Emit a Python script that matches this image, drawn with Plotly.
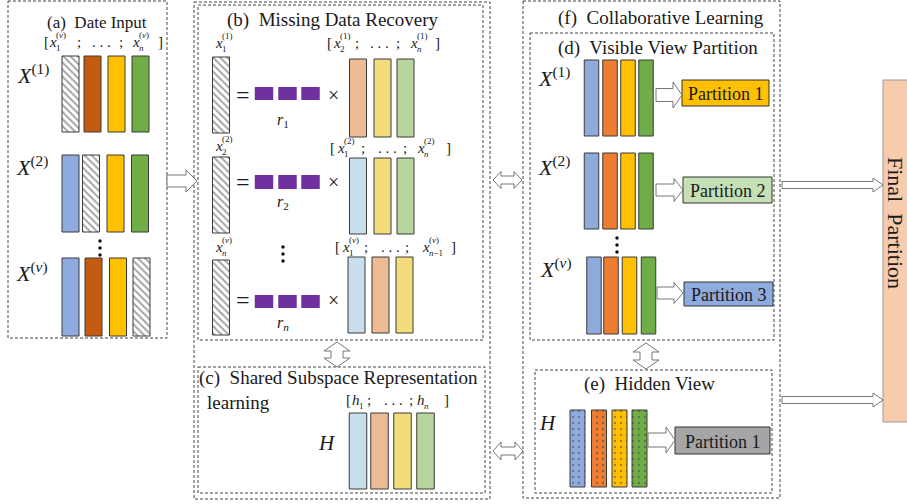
import plotly.graph_objects as go

W, H = 907, 504
FONT = "Liberation Serif"
INK = "#1a1a1a"
EDGE = "#3a3a3a"

# ---- colours ----
HATCH = "hatch"
BLUE, DORANGE, ORANGE, YELLOW, GREEN = "#8FAADC", "#C55A11", "#ED7D31", "#FFC000", "#70AD47"
LBLUE, PEACH, LYELLOW, LGREEN = "#C9DEEC", "#EDBC94", "#F2DC7C", "#B7D59E"
PURPLE = "#7030A0"

# ---- (a) Date input ----
a_labels = ["(1)", "(2)", "(<i>v</i>)"]
a_label_xy = [(33, 74), (32, 166), (32, 272)]
a_tops = [56, 155, 258]
a_bottoms = [132, 232, 336]
a_centers = [[70.5, 92.5, 116.5, 140.5], [70.5, 91, 115.5, 140], [70.5, 93.5, 118, 141.5]]
a_colors = [[HATCH, DORANGE, YELLOW, GREEN], [BLUE, HATCH, YELLOW, GREEN], [BLUE, DORANGE, YELLOW, HATCH]]

# ---- (b) Missing data recovery ----
b_hatch_tops = [57, 157, 260]
b_hatch_bottoms = [133, 233, 335]
b_hatch_x = 221
b_sq_tops = [87, 175, 295]
b_sq_bottoms = [100, 189, 308]
b_sq_centers = [264, 287.5, 310.5]
b_r_labels = ["1", "2", "<i>n</i>"]
b_r_y = [120, 202, 323]
b_eq_y = [95, 182, 300]
b_tops = [59, 158, 257]
b_bottoms = [137, 234, 333]
b_centers = [[358, 382.5, 405.5], [358, 382.5, 405.5], [356.5, 380.5, 404.5]]
b_colors = [[PEACH, LYELLOW, LGREEN], [LBLUE, LYELLOW, LGREEN], [LBLUE, PEACH, LYELLOW]]

# ---- (c) Shared subspace ----
c_centers = [358, 379.5, 402.5, 425.5]
c_colors = [LBLUE, PEACH, LYELLOW, LGREEN]
c_top, c_bottom = 413, 489

# ---- (d) Visible view partition ----
d_labels = ["(1)", "(2)", "(<i>v</i>)"]
d_label_xy = [(554, 77), (554, 166), (556, 268)]
d_tops = [60, 153, 257]
d_bottoms = [136, 229, 334]
d_centers = [[591.5, 610, 628, 646], [591.5, 610, 628, 646], [594, 611, 629.5, 648.5]]
d_colors = [BLUE, ORANGE, YELLOW, GREEN]
partition_labels = ["Partition 1", "Partition 2", "Partition 3", "Partition 1"]
partition_colors = [YELLOW, "#C5E0B4", BLUE, "#A5A5A5"]
partition_boxes = [(682, 80, 769, 106), (683, 177, 772, 203), (684, 282, 773, 306), (675, 427, 770, 454)]

# ---- (e) Hidden view ----
e_centers = [577.5, 599, 619.5, 639.5]
e_colors = [BLUE, ORANGE, YELLOW, GREEN]
e_top, e_bottom = 410, 487

fig = go.Figure()


def add_bars(centers, tops, bottoms, colors, width, dotted=False):
    base_colors, pshapes = [], []
    for c in colors:
        if c == HATCH:
            base_colors.append("white")
            pshapes.append("\\")
        else:
            base_colors.append(c)
            pshapes.append("." if dotted else "")
    pattern = dict(shape=pshapes, fgcolor="#3a3a3a" if not dotted else "rgba(255,255,255,0.85)",
                   size=5 if not dotted else 6, solidity=0.38 if not dotted else 0.12)
    fig.add_trace(go.Bar(
        x=centers, base=tops, y=[b - t for t, b in zip(tops, bottoms)], width=width,
        marker=dict(color=base_colors, line=dict(color=EDGE, width=1), pattern=pattern),
        hoverinfo="skip", showlegend=False))


for i in range(3):
    add_bars(a_centers[i], [a_tops[i]] * 4, [a_bottoms[i]] * 4, a_colors[i], 17)
add_bars([b_hatch_x] * 3, b_hatch_tops, b_hatch_bottoms, [HATCH] * 3, 17)
for i in range(3):
    add_bars(b_centers[i], [b_tops[i]] * 3, [b_bottoms[i]] * 3, b_colors[i], 17)
    fig.add_trace(go.Bar(x=b_sq_centers, base=[b_sq_tops[i]] * 3,
                         y=[b_sq_bottoms[i] - b_sq_tops[i]] * 3, width=18.5,
                         marker=dict(color=PURPLE, line=dict(width=0)),
                         hoverinfo="skip", showlegend=False))
add_bars(c_centers, [c_top] * 4, [c_bottom] * 4, c_colors, 17.5)
for i in range(3):
    add_bars(d_centers[i], [d_tops[i]] * 4, [d_bottoms[i]] * 4, d_colors, 14.5)
add_bars(e_centers, [e_top] * 4, [e_bottom] * 4, e_colors, 15, dotted=True)

# vertical ellipses
dots_x = [100, 100, 100, 283, 283, 283, 617, 617, 617]
dots_y = [241, 248, 255, 247, 254, 261, 238, 245, 252]
fig.add_trace(go.Scatter(x=dots_x, y=dots_y, mode="markers",
                         marker=dict(size=3.5, color="#111"), hoverinfo="skip", showlegend=False))

shapes = []
dashed_boxes = [(8, 1, 167, 338), (194, 2, 490, 499), (198, 5, 483, 340), (198, 367, 485, 493),
                (523, 1, 780, 498), (530, 33, 774, 340), (535, 370, 772, 493)]
for x0, y0, x1, y1 in dashed_boxes:
    shapes.append(dict(type="rect", x0=x0, y0=y0, x1=x1, y1=y1,
                       line=dict(color="#444", width=1, dash="3px,2px")))
for (x0, y0, x1, y1), col in zip(partition_boxes, partition_colors):
    shapes.append(dict(type="rect", x0=x0, y0=y0, x1=x1, y1=y1, fillcolor=col,
                       line=dict(color="#333", width=1)))
shapes.append(dict(type="rect", x0=883, y0=80, x1=912, y1=422, fillcolor="#F8CBAD",
                   line=dict(color="#999", width=1)))


def right_arrow(x0, x1, yc, hb, hh, hl):
    p = (f"M {x0},{yc-hb} L {x1-hl},{yc-hb} L {x1-hl},{yc-hh} L {x1},{yc} "
         f"L {x1-hl},{yc+hh} L {x1-hl},{yc+hb} L {x0},{yc+hb} Z")
    shapes.append(dict(type="path", path=p, fillcolor="white", line=dict(color="#777", width=1)))


def hdouble(x0, x1, yc, hb, hh, hl):
    p = (f"M {x0},{yc} L {x0+hl},{yc-hh} L {x0+hl},{yc-hb} L {x1-hl},{yc-hb} L {x1-hl},{yc-hh} "
         f"L {x1},{yc} L {x1-hl},{yc+hh} L {x1-hl},{yc+hb} L {x0+hl},{yc+hb} L {x0+hl},{yc+hh} Z")
    shapes.append(dict(type="path", path=p, fillcolor="white", line=dict(color="#777", width=1)))


def vdouble(xc, y0, y1, hb, hh, hl):
    p = (f"M {xc},{y0} L {xc+hh},{y0+hl} L {xc+hb},{y0+hl} L {xc+hb},{y1-hl} L {xc+hh},{y1-hl} "
         f"L {xc},{y1} L {xc-hh},{y1-hl} L {xc-hb},{y1-hl} L {xc-hb},{y0+hl} L {xc-hh},{y0+hl} Z")
    shapes.append(dict(type="path", path=p, fillcolor="white", line=dict(color="#777", width=1)))


right_arrow(167, 197, 181, 6, 11, 11)
right_arrow(656, 682, 95, 6.5, 13, 9)
right_arrow(656, 683, 190, 6, 11.5, 9)
right_arrow(657, 683, 293, 6, 10.5, 9)
right_arrow(648, 675, 440, 7, 13, 9)
right_arrow(782, 883, 185, 3.5, 7, 10)
right_arrow(782, 883, 400, 3.5, 7, 10)
hdouble(493, 522, 180, 4, 8.5, 8)
hdouble(493, 523, 451, 4, 9, 8)
vdouble(337, 342, 367, 6, 13, 9)
vdouble(646, 343, 369, 6, 13, 9)

anns = []


def ann(x, y, text, size, xanchor="center", angle=0):
    anns.append(dict(x=x, y=y, text=text, showarrow=False, xanchor=xanchor, yanchor="middle",
                     textangle=angle, borderpad=0,
                     font=dict(family=FONT, size=int(round(size)), color=INK)))


def term(xr, y, base, sub, sup, size):
    small = int(round(0.62 * size))
    ann(xr, y, f"<i>{base}</i>", size, xanchor="right")
    if sup:
        ann(xr - 3, y - 0.45 * size, sup, small, xanchor="left")
    if sub:
        ann(xr - 3, y + 0.38 * size, sub, small, xanchor="left")


def bracket(y, size, lb, t1, s1, dots, s2, t2, rb, base, sub1, sup1, sub2, sup2):
    ann(lb, y, "[", size)
    term(t1, y, base, sub1, sup1, size)
    ann(s1, y, ";", size)
    ann(dots, y, ". . .", size)
    ann(s2, y, ";", size)
    term(t2, y, base, sub2, sup2, size)
    ann(rb, y, "]", size)


V = "(<i>v</i>)"
ann(97, 22, "(a)  Date Input", 17)
ann(333, 20, "(b)  Missing Data Recovery", 19)
ann(198, 378, "(c)  Shared Subspace Representation", 19, xanchor="left")
ann(206, 402, "learning", 19, xanchor="left")
ann(661, 18, "(f)  Collaborative Learning", 19)
ann(658, 48, "(d)  Visible View Partition", 19)
ann(649, 384, "(e)  Hidden View", 19)

for lab, (x, y) in zip(a_labels, a_label_xy):
    ann(x, y, f"<i>X</i><sup>{lab}</sup>", 22)
bracket(42, 15, 46, 58, 79, 101, 121, 141, 160, "x", "1", V, "<i>n</i>", V)

b_top_terms = [("1", "(1)"), ("2", "(2)"), ("<i>n</i>", V)]
for (sub, sup), y in zip(b_top_terms, [43, 146, 247]):
    term(224, y, "x", sub, sup, 15)
for lab, y in zip(b_r_labels, b_r_y):
    ann(283, y, f"<i>r</i><sub>{lab}</sub>", 16)
for y in b_eq_y:
    ann(243, y, "=", 24)
    ann(333, y, "×", 20)
bracket(43, 15, 329, 342, 357, 379, 398, 419, 437, "x", "2", "(1)", "<i>n</i>", "(1)")
bracket(148, 15, 332, 346, 363, 387, 405, 426, 448, "x", "1", "(2)", "<i>n</i>", "(2)")
bracket(247, 15, 337, 351, 366, 390, 407, 431, 453, "x", "1", V, "<i>n</i>−1", V)

bracket(400, 15, 348, 361, 369, 393, 411, 426, 446, "h", "1", None, "<i>n</i>", None)
ann(327, 443, "<i>H</i>", 21)

for lab, (x, y) in zip(d_labels, d_label_xy):
    ann(x, y, f"<i>X</i><sup>{lab}</sup>", 22)
for (x0, y0, x1, y1), lab in zip(partition_boxes, partition_labels):
    ann((x0 + x1) / 2, (y0 + y1) / 2 + 1, lab, 18)
ann(548, 423, "<i>H</i>", 21)
ann(896, 223, "Final  Partition", 22, angle=90)

fig.update_layout(
    width=W, height=H, margin=dict(l=0, r=0, t=0, b=0),
    paper_bgcolor="white", plot_bgcolor="white",
    barmode="overlay", showlegend=False, hovermode=False,
    xaxis=dict(range=[0, W], visible=False, fixedrange=True),
    yaxis=dict(range=[H, 0], visible=False, fixedrange=True),
    shapes=shapes, annotations=anns,
)
fig.write_html("out.html", config={"displayModeBar": False},
               post_script="document.body.style.margin='0';document.body.style.overflow='hidden';")
